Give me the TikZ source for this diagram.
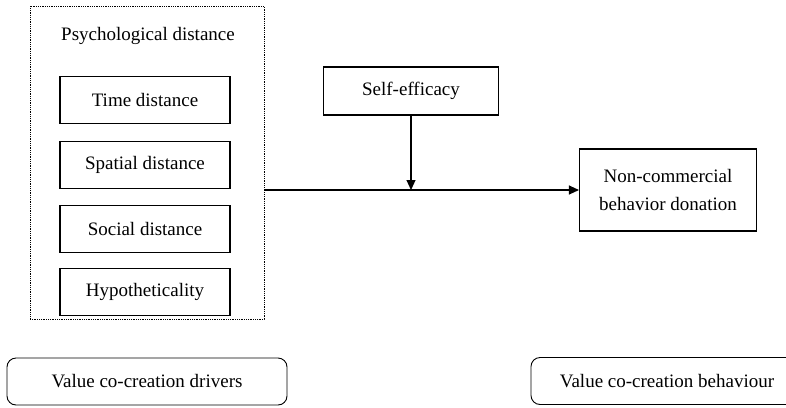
\documentclass[tikz,border=0pt]{standalone}
\usepackage{fontspec}
\setmainfont{Liberation Serif}
\usetikzlibrary{arrows.meta, positioning}
\tikzset{
  box/.style={draw=black, line width=1.1pt, align=center, inner sep=4pt,
              minimum height=47pt, font=\fontsize{19}{28}\selectfont},
  subbox/.style={box, minimum width=170pt},
  roundbox/.style={box, rounded corners=9pt, line width=0.9pt, minimum height=47pt},
  dotbox/.style={draw=black, line width=1pt, dash pattern=on 0.9pt off 0.9pt,
                 minimum width=234pt, minimum height=313pt},
  flow/.style={-{Triangle[length=10pt, width=9pt]}, line width=1.1pt},
  lbl/.style={font=\fontsize{19}{28}\selectfont},
}

\begin{document}
\begin{tikzpicture}[x=1pt, y=-1pt]
  \useasboundingbox (0,0) rectangle (786,407);
  \clip (0,0) rectangle (786,407);

  % drivers side
  \node[dotbox] (psych) at (147,162.5) {};
  \node[lbl] (psychlbl) at (148,36) {Psychological distance};
  \node[subbox] (time) at (145,100) {Time distance};
  \node[subbox, below=17pt of time] (spatial) {Spatial distance};
  \node[subbox, below=16pt of spatial] (social) {Social distance};
  \node[subbox, below=15pt of social] (hypo) {Hypotheticality};

  % moderator and outcome
  \node[box, minimum width=175pt, minimum height=48pt] (self) at (411,91) {Self-efficacy};
  \node[box, minimum width=177pt, minimum height=82pt] (ncb) at (668,190)
    {Non-commercial\\ behavior donation};

  \draw[flow] (psych.east |- ncb.west) -- (ncb.west);
  \draw[flow] (self.south) -- (self.south |- ncb.west);

  % bottom captions
  \node[roundbox, minimum width=280pt] (drivers) at (147,381.5) {Value co-creation drivers};
  \node[roundbox, minimum width=272pt] (behav) at (667,381) {Value co-creation behaviour};
\end{tikzpicture}
\end{document}
